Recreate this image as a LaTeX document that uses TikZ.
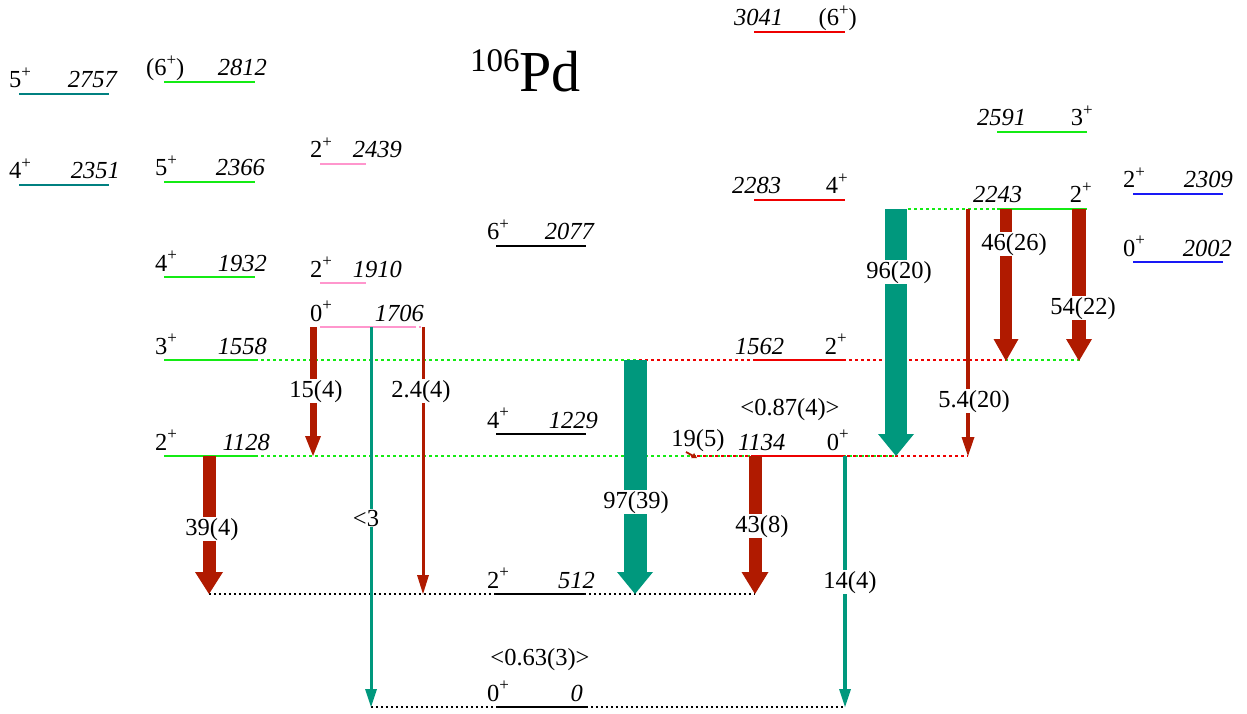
\documentclass[tikz,border=0pt]{standalone}
\usepackage{fontspec}
\setmainfont{Liberation Serif}
\usetikzlibrary{arrows.meta}
\definecolor{lteal}{RGB}{0,128,128}
\definecolor{lgreen}{RGB}{20,235,20}
\definecolor{lpink}{RGB}{255,150,205}
\definecolor{lred}{RGB}{238,0,0}
\definecolor{lblue}{RGB}{25,25,245}
\definecolor{ateal}{RGB}{0,152,125}
\definecolor{ared}{RGB}{176,26,0}
\newcommand\fsz{\fontsize{24.5}{29}\selectfont}
\newcommand\jp[1]{#1\raisebox{0.42em}{\fontsize{17}{17}\selectfont +}}
\begin{document}
\begin{tikzpicture}[x=1pt,y=-1pt,
  lvl/.style={line width=2.8pt},
  dotl/.style={line width=2.5pt, dash pattern=on 2.5pt off 3.5pt},
  dotr/.style={line width=2.5pt, dash pattern=on 2.5pt off 3.5pt, dash phase=3pt},
  dotk/.style={line width=2pt, dash pattern=on 2pt off 3pt},
  lab/.style={font=\fsz, inner sep=0pt},
  tlab/.style={font=\fsz, fill=white, inner sep=1pt, anchor=base},
  tr/.style n args={4}{draw=#1, line width=#2, -{Triangle[width=#3, length=#4, line width=0pt]}}
]
\useasboundingbox (0,0) rectangle (1247,714);

% title
\node[lab, anchor=base west] (title) at (470,92) {\raisebox{20pt}{\fontsize{33}{35}\selectfont 106}\fontsize{58}{60}\selectfont Pd};

% dotted extensions
\coordinate (x1558) at (1080,360);
\coordinate (y1562) at (636,360);
\coordinate (x1562) at (1006,360);
\coordinate (x1128) at (896,456);
\coordinate (y1134) at (688,456);
\coordinate (x1134) at (968,456);
\coordinate (y2243) at (908,209);
\coordinate (x1706) at (423,327);
\coordinate (y512) at (209,594);
\coordinate (x512) at (755,594);
\coordinate (y0) at (371,707);
\coordinate (x0) at (845,707);

% levels, spin on the left
\foreach \n/\c/\xa/\xb/\y/\sx/\s/\ex/\e in {
  2757/lteal/19/109/94/9/\jp5/118/2757,
  2351/lteal/19/109/185/9/\jp4/120/2351,
  2812/lgreen/164/255/82/146/{(\jp6)}/267/2812,
  2366/lgreen/164/255/182/155/\jp5/265/2366,
  1932/lgreen/164/255/277/155/\jp4/267/1932,
  1558/lgreen/164/255/360/155/\jp3/267/1558,
  1128/lgreen/164/255/456/155/\jp2/270/1128,
  2439/lpink/320/366/164/310/\jp2/402/2439,
  1910/lpink/320/366/283/310/\jp2/402/1910,
  1706/lpink/320/410/327/310/\jp0/424/1706,
  2077/black/496/586/246/487/\jp6/595/2077,
  1229/black/496/586/434/487/\jp4/598/1229,
  512/black/496/586/594/487/\jp2/595/512,
  0/black/496/586/707/487/\jp0/583/0,
  2309/lblue/1133/1223/194/1123/\jp2/1233/2309,
  2002/lblue/1133/1223/262/1123/\jp0/1232/2002}{
  \coordinate (a\n) at (\xa,\y);
  \coordinate (b\n) at (\xb,\y);
  \node[lab, anchor=base west] (s\n) at (\sx,{\y-6}) {\s};
  \node[lab, anchor=base east] (e\n) at (\ex,{\y-6}) {\textit{\e}};
}
% levels, energy on the left
\foreach \n/\c/\xa/\xb/\y/\ex/\e/\sx/\s in {
  3041/lred/754/845/32/734/3041/857/{(\jp6)},
  2283/lred/754/845/200/732/2283/848/\jp4,
  1562/lred/754/845/360/735/1562/847/\jp2,
  1134/lred/752/845/456/738/1134/849/\jp0,
  2591/lgreen/997/1087/132/977/2591/1093/\jp3,
  2243/lgreen/997/1087/209/973/2243/1092/\jp2}{
  \coordinate (a\n) at (\xa,\y);
  \coordinate (b\n) at (\xb,\y);
  \node[lab, anchor=base west] (e\n) at (\ex,{\y-6}) {\textit{\e}};
  \node[lab, anchor=base east] (s\n) at (\sx,{\y-6}) {\s};
}

\draw[dotl,lgreen] (b1558) -- (x1558);
\draw[dotr,lred] (y1562) -- (x1562);
\draw[dotl,lgreen] (b1128) -- (x1128);
\draw[dotr,lred] (y1134) -- (x1134);
\draw[dotl,lgreen] (y2243) -- (a2243);
\draw[line width=2.5pt,lpink,dash pattern=on 6pt off 3pt on 2pt off 3pt] (b1706) -- (x1706);
\draw[dotk] (y512) -- (x512);
\draw[dotk] (y0) -- (x0);

\foreach \n/\c in {2757/lteal,2351/lteal,2812/lgreen,2366/lgreen,1932/lgreen,1558/lgreen,1128/lgreen,
  2439/lpink,1910/lpink,1706/lpink,2077/black,1229/black,512/black,0/black,2309/lblue,2002/lblue,
  3041/lred,2283/lred,1562/lred,1134/lred,2591/lgreen,2243/lgreen}{
  \draw[lvl,\c] (a\n) -- (b\n);
}

% transitions
\coordinate (t39a) at (209,456);  \coordinate (t39b) at (209,594);
\coordinate (t15a) at (313,327);  \coordinate (t15b) at (313,456);
\coordinate (t24a) at (423,327);  \coordinate (t24b) at (423,594);
\coordinate (t3a)  at (371,327);  \coordinate (t3b)  at (371,707);
\coordinate (t97a) at (635,360);  \coordinate (t97b) at (635,594);
\coordinate (t43a) at (755,456);  \coordinate (t43b) at (755,594);
\coordinate (t14a) at (845,456);  \coordinate (t14b) at (845,707);
\coordinate (t96a) at (896,209);  \coordinate (t96b) at (896,456);
\coordinate (t54a) at (968,209);  \coordinate (t54b) at (968,456);
\coordinate (t46a) at (1006,209); \coordinate (t46b) at (1006,361);
\coordinate (t22a) at (1079,209); \coordinate (t22b) at (1079,361);
\coordinate (t19a) at (686,452);  \coordinate (t19b) at (697,458);

\draw[tr={ared}{13pt}{28pt}{22pt}] (t39a) -- (t39b);
\draw[tr={ared}{7pt}{16pt}{20pt}] (t15a) -- (t15b);
\draw[tr={ared}{3pt}{12pt}{19pt}] (t24a) -- (t24b);
\draw[tr={ateal}{3pt}{12pt}{18pt}] (t3a) -- (t3b);
\draw[tr={ateal}{23pt}{36pt}{22pt}] (t97a) -- (t97b);
\draw[tr={ared}{13pt}{27pt}{22pt}] (t43a) -- (t43b);
\draw[tr={ateal}{4pt}{12pt}{18pt}] (t14a) -- (t14b);
\draw[tr={ateal}{22pt}{36pt}{22pt}] (t96a) -- (t96b);
\draw[tr={ared}{3.5pt}{13pt}{19pt}] (t54a) -- (t54b);
\draw[tr={ared}{12pt}{25pt}{22pt}] (t46a) -- (t46b);
\draw[tr={ared}{14pt}{26pt}{22pt}] (t22a) -- (t22b);
\draw[tr={ared}{1.8pt}{6pt}{5pt}] (t19a) -- (t19b);

% transition labels
\node[tlab] (l39) at (212,535) {39(4)};
\node[tlab] (l15) at (316,397) {15(4)};
\node[tlab] (l24) at (421,397) {2.4(4)};
\node[tlab] (l3)  at (366,526) {<3};
\node[tlab] (l97) at (636,508) {97(39)};
\node[tlab] (l43) at (762,532) {43(8)};
\node[tlab] (l14) at (850,588) {14(4)};
\node[tlab] (l96) at (899,278) {96(20)};
\node[tlab] (l54) at (974,407) {5.4(20)};
\node[tlab] (l46) at (1014,250) {46(26)};
\node[tlab] (l22) at (1083,314) {54(22)};
\node[lab, anchor=base] (l19) at (698,446) {19(5)};

\node[lab, anchor=base] (b087) at (790,415) {<0.87(4)>};
\node[lab, anchor=base] (b063) at (540,665) {<0.63(3)>};
\end{tikzpicture}
\end{document}
